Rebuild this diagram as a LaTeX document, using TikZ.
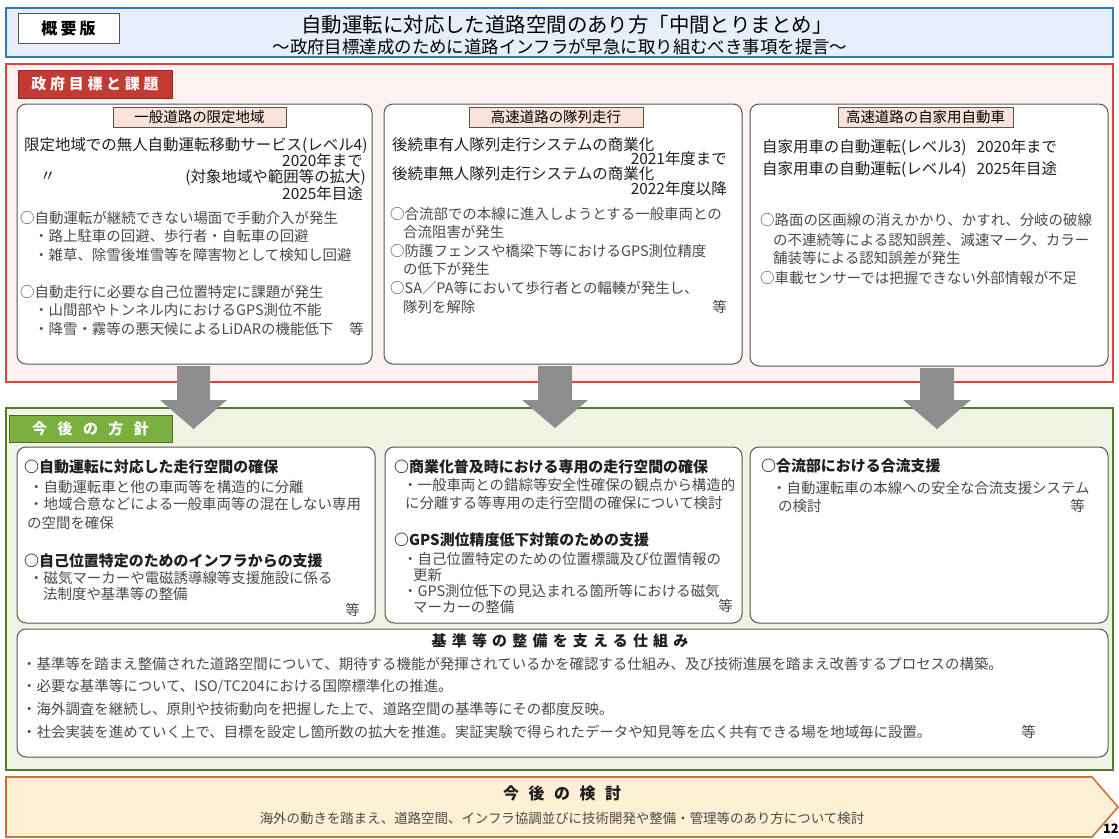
\documentclass[tikz,border=0pt]{standalone}
\usepackage{fontspec}
\setmainfont{Noto Sans CJK JP}
\usetikzlibrary{fit,calc}
\definecolor{hdrfill}{HTML}{E6EFF9}
\definecolor{hdrline}{HTML}{2F78BE}
\definecolor{redfill}{HTML}{FDF2EF}
\definecolor{redline}{HTML}{D9463E}
\definecolor{redlab}{HTML}{C23B33}
\definecolor{redlabline}{HTML}{8E2A24}
\definecolor{grnfill}{HTML}{EEF3E2}
\definecolor{grnline}{HTML}{587A2C}
\definecolor{grnlab}{HTML}{7BAF3E}
\definecolor{grnlabline}{HTML}{4E6E26}
\definecolor{subfill}{HTML}{F9E3D8}
\definecolor{boxline}{HTML}{555555}
\definecolor{bodytext}{HTML}{4A4A4A}
\definecolor{arrowgray}{HTML}{8E8E8E}
\definecolor{orgfill}{HTML}{FEF0D4}
\definecolor{orgline}{HTML}{C8733A}
\begin{document}
\begin{tikzpicture}[x=1bp,y=-1bp,
  hdr/.style={draw=hdrline, line width=1.6bp, fill=hdrfill, inner sep=0},
  verbox/.style={draw=boxline, line width=0.8bp, fill=white, inner sep=0},
  vertext/.style={inner sep=0, font=\fontsize{16}{18}\selectfont\bfseries\addfontfeatures{LetterSpace=20}},
  secred/.style={draw=redline, line width=1.6bp, fill=redfill, inner sep=0},
  secgreen/.style={draw=grnline, line width=1.8bp, fill=grnfill, inner sep=0},
  ibox/.style={draw=boxline, line width=1bp, fill=white, rounded corners=9bp, inner sep=0},
  sublabel/.style={draw=boxline, line width=0.8bp, fill=subfill, inner sep=0},
  subtext/.style={inner sep=0, font=\fontsize{14.5}{16}\selectfont, text=black},
  redlabel/.style={draw=redlabline, line width=0.8bp, fill=redlab, inner sep=0},
  redtext/.style={inner sep=0, text=white, font=\fontsize{15}{17}\selectfont\bfseries\addfontfeatures{LetterSpace=25}},
  grnlabel/.style={draw=grnlabline, line width=1bp, fill=grnlab, inner sep=0},
  grntext/.style={inner sep=0, text=white, font=\fontsize{15}{17}\selectfont\bfseries\addfontfeatures{LetterSpace=70}},
  body/.style={inner sep=0, text=bodytext, font=\fontsize{14.5}{16}\selectfont},
  small/.style={inner sep=0, text=bodytext, font=\fontsize{13.5}{15}\selectfont},
  head/.style={inner sep=0, text=black!88, font=\fontsize{15.5}{17}\selectfont},
  bhead/.style={inner sep=0, text=black!88, font=\fontsize{15}{17}\selectfont\bfseries},
  bigarrow/.style={fill=arrowgray},
]
\useasboundingbox (0,0) rectangle (1119,839);
\fill[white] (0,0) rectangle (1119,839);

% ---------- header ----------
\node[hdr, fit={(6,8) (1113,57)}] (hdr) {};
\node[verbox, fit={(18,13) (119,43)}] (ver) {};
\node[vertext] (vert) at (ver.center) {概要版};
\node[inner sep=0, font=\fontsize{20.5}{22}\selectfont] (title) at (567,25) {自動運転に対応した道路空間のあり方「中間とりまとめ」};
\node[inner sep=0, font=\fontsize{17.5}{19}\selectfont] (subtitle) at (560,47) {～政府目標達成のために道路インフラが早急に取り組むべき事項を提言～};

% ---------- red section ----------
\node[secred, fit={(6,64) (1113,382)}] (secA) {};
\node[redlabel, fit={(18,70) (172,98)}] (labA) {};
\node[redtext] (labAt) at (labA.center) {政府目標と課題};

\node[ibox, fit={(17,104) (372,364)}] (t1) {};
\node[ibox, fit={(384,104) (742,364)}] (t2) {};
\node[ibox, fit={(750,104) (1108,366)}] (t3) {};

% ---------- green section ----------
\node[secgreen, fit={(6,408) (1113,770)}] (secB) {};
\node[grnlabel, fit={(9,415) (172,442)}] (labB) {};
\node[grntext] (labBt) at (labB.center) {今後の方針};

\node[ibox, fit={(17,447) (375,623)}] (g1) {};
\node[ibox, fit={(385,447) (742,623)}] (g2) {};
\node[ibox, fit={(750,447) (1108,623)}] (g3) {};
\node[ibox, fit={(17,629) (1108,757)}] (g4) {};

% ---------- arrows ----------
\fill[bigarrow] (177,366) -- (210,366) -- (210,400) -- (227,400) -- (193.5,429) -- (160,400) -- (177,400) -- cycle;
\fill[bigarrow] (538,366) -- (572,366) -- (572,400) -- (588,400) -- (555,428) -- (522,400) -- (538,400) -- cycle;
\fill[bigarrow] (920,368) -- (954,368) -- (954,400) -- (971,400) -- (937,429) -- (903,400) -- (920,400) -- cycle;

% ---------- orange section ----------
\draw[draw=orgline, fill=orgfill, line width=1.6bp] (6,777) -- (1092,777) -- (1118,807) -- (1092,837) -- (6,837) -- cycle;
\node[inner sep=0, text=black!88, font=\fontsize{16}{18}\selectfont\bfseries\addfontfeatures{LetterSpace=60}] (kentou) at (562,793) {今後の検討};
\node[small] (kentou2) at (562,818) {海外の動きを踏まえ、道路空間、インフラ協調並びに技術開発や整備・管理等のあり方について検討};
\node[inner sep=0, anchor=east, font=\fontsize{13}{15}\selectfont\bfseries] (pageno) at (1119,829) {12};

% ---------- top left box ----------
\node[sublabel, fit={(113,107) (286,127)}] (s1) {};
\node[subtext] (s1t) at (s1.center) {一般道路の限定地域};
\node[head, anchor=west] (t1a) at (24,146) {限定地域での無人自動運転移動サービス(レベル4)};
\node[head, anchor=east] (t1b) at (363,161) {2020年まで};
\node[head, anchor=west] (t1c) at (40,177) {〃};
\node[head, anchor=east] (t1d) at (366,177) {(対象地域や範囲等の拡大)};
\node[head, anchor=east] (t1e) at (363,194) {2025年目途};
\node[body, anchor=west] (t1f) at (20,218) {○自動運転が継続できない場面で手動介入が発生};
\node[body, anchor=west] (t1g) at (34,236) {・路上駐車の回避、歩行者・自転車の回避};
\node[body, anchor=west] (t1h) at (34,255) {・雑草、除雪後堆雪等を障害物として検知し回避};
\node[body, anchor=west] (t1i) at (20,292) {○自動走行に必要な自己位置特定に課題が発生};
\node[body, anchor=west] (t1j) at (34,310) {・山間部やトンネル内におけるGPS測位不能};
\node[body, anchor=west] (t1k) at (34,329) {・降雪・霧等の悪天候によるLiDARの機能低下};
\node[body, anchor=east] (t1l) at (364,329) {等};

% ---------- top middle box ----------
\node[sublabel, fit={(469,107) (643,127)}] (s2) {};
\node[subtext] (s2t) at (s2.center) {高速道路の隊列走行};
\node[head, anchor=west] (t2a) at (392,145) {後続車有人隊列走行システムの商業化};
\node[head, anchor=east] (t2b) at (727,159) {2021年度まで};
\node[head, anchor=west] (t2c) at (392,174) {後続車無人隊列走行システムの商業化};
\node[head, anchor=east] (t2d) at (727,189) {2022年度以降};
\node[body, anchor=west] (t2e) at (390,214) {○合流部での本線に進入しようとする一般車両との};
\node[body, anchor=west] (t2f) at (403,232) {合流阻害が発生};
\node[body, anchor=west] (t2g) at (390,251) {○防護フェンスや橋梁下等におけるGPS測位精度};
\node[body, anchor=west] (t2h) at (403,269) {の低下が発生};
\node[body, anchor=west] (t2i) at (390,288) {○SA／PA等において歩行者との輻輳が発生し、};
\node[body, anchor=west] (t2j) at (403,307) {隊列を解除};
\node[body, anchor=east] (t2k) at (727,307) {等};

% ---------- top right box ----------
\node[sublabel, fit={(838,107) (1013,127)}] (s3) {};
\node[subtext] (s3t) at (s3.center) {高速道路の自家用自動車};
\node[head, anchor=west] (t3a) at (762,147) {自家用車の自動運転(レベル3)\hspace{10bp}2020年まで};
\node[head, anchor=west] (t3b) at (762,169) {自家用車の自動運転(レベル4)\hspace{10bp}2025年目途};
\node[body, anchor=west] (t3c) at (760,220) {○路面の区画線の消えかかり、かすれ、分岐の破線};
\node[body, anchor=west] (t3d) at (773,240) {の不連続等による認知誤差、減速マーク、カラー};
\node[body, anchor=west] (t3e) at (773,258) {舗装等による認知誤差が発生};
\node[body, anchor=west] (t3f) at (760,278) {○車載センサーでは把握できない外部情報が不足};

% ---------- green left box ----------
\node[bhead, anchor=west] (g1a) at (24,467) {○自動運転に対応した走行空間の確保};
\node[body, anchor=west] (g1b) at (29,487) {・自動運転車と他の車両等を構造的に分離};
\node[body, anchor=west] (g1c) at (29,504) {・地域合意などによる一般車両等の混在しない専用};
\node[body, anchor=west] (g1d) at (27,523) {の空間を確保};
\node[bhead, anchor=west] (g1e) at (24,561) {○自己位置特定のためのインフラからの支援};
\node[body, anchor=west] (g1f) at (29,578) {・磁気マーカーや電磁誘導線等支援施設に係る};
\node[body, anchor=west] (g1g) at (43,594) {法制度や基準等の整備};
\node[body, anchor=east] (g1h) at (360,610) {等};

% ---------- green middle box ----------
\node[bhead, anchor=west] (g2a) at (394,467) {○商業化普及時における専用の走行空間の確保};
\node[body, anchor=west] (g2b) at (403,485) {・一般車両との錯綜等安全性確保の観点から構造的};
\node[body, anchor=west] (g2c) at (405,503) {に分離する等専用の走行空間の確保について検討};
\node[bhead, anchor=west] (g2d) at (394,540) {○GPS測位精度低下対策のための支援};
\node[body, anchor=west] (g2e) at (403,559) {・自己位置特定のための位置標識及び位置情報の};
\node[body, anchor=west] (g2f) at (413,575) {更新};
\node[body, anchor=west] (g2g) at (403,591) {・GPS測位低下の見込まれる箇所等における磁気};
\node[body, anchor=west] (g2h) at (413,607) {マーカーの整備};
\node[body, anchor=east] (g2i) at (733,606) {等};

% ---------- green right box ----------
\node[bhead, anchor=west] (g3a) at (761,466) {○合流部における合流支援};
\node[body, anchor=west] (g3b) at (772,488) {・自動運転車の本線への安全な合流支援システム};
\node[body, anchor=west] (g3c) at (778,506) {の検討};
\node[body, anchor=east] (g3d) at (1085,506) {等};

% ---------- bottom box ----------
\node[inner sep=0, text=black!88, font=\fontsize{15}{17}\selectfont\bfseries\addfontfeatures{LetterSpace=35}] (g4a) at (560,641) {基準等の整備を支える仕組み};
\node[body, anchor=west] (g4b) at (22,664) {・基準等を踏まえ整備された道路空間について、期待する機能が発揮されているかを確認する仕組み、及び技術進展を踏まえ改善するプロセスの構築。};
\node[body, anchor=west] (g4c) at (22,687) {・必要な基準等について、ISO/TC204における国際標準化の推進。};
\node[body, anchor=west] (g4d) at (22,709) {・海外調査を継続し、原則や技術動向を把握した上で、道路空間の基準等にその都度反映。};
\node[body, anchor=west] (g4e) at (22,732) {・社会実装を進めていく上で、目標を設定し箇所数の拡大を推進。実証実験で得られたデータや知見等を広く共有できる場を地域毎に設置。};
\node[body, anchor=east] (g4f) at (1036,732) {等};
\end{tikzpicture}
\end{document}
